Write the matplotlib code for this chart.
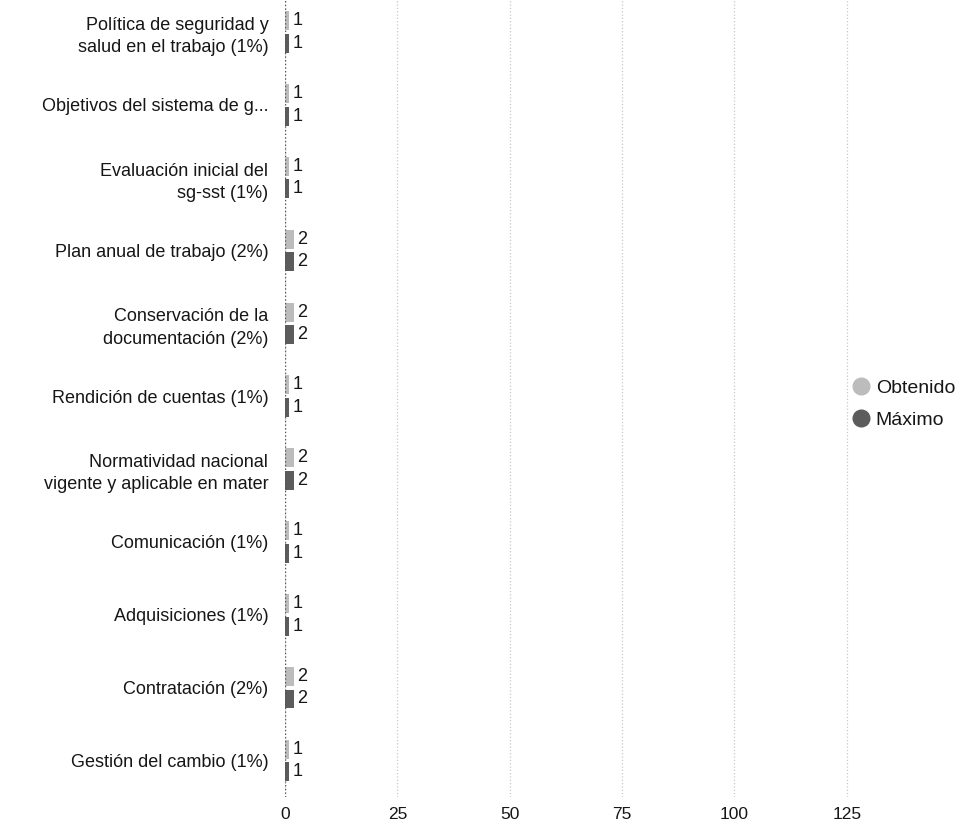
import numpy as np
import matplotlib.pyplot as plt
from matplotlib.lines import Line2D

plt.rcParams['font.family'] = ['Liberation Sans', 'DejaVu Sans']

categorias = [
    "Política de seguridad y\nsalud en el trabajo (1%)",
    "Objetivos del sistema de g...",
    "Evaluación inicial del\nsg-sst (1%)",
    "Plan anual de trabajo (2%)",
    "Conservación de la\ndocumentación (2%)",
    "Rendición de cuentas (1%)",
    "Normatividad nacional\nvigente y aplicable en mater",
    "Comunicación (1%)",
    "Adquisiciones (1%)",
    "Contratación (2%)",
    "Gestión del cambio (1%)",
]
obtenido = [1, 1, 1, 2, 2, 1, 2, 1, 1, 2, 1]
maximo = [1, 1, 1, 2, 2, 1, 2, 1, 1, 2, 1]
x_ticks = [0, 25, 50, 75, 100, 125]

C_OBT = "#bcbcbc"
C_MAX = "#5c5c5c"
TXT = "#161616"

fig = plt.figure(figsize=(9.63, 8.34), dpi=100)
ax = fig.add_axes([285 / 963, 1 - 797 / 834, 564 / 963, 803 / 834])

y = np.arange(len(categorias))
h = 0.26
off = 0.155
b1 = ax.barh(y - off, obtenido, height=h, color=C_OBT, zorder=3)
b2 = ax.barh(y + off, maximo, height=h, color=C_MAX, zorder=3)

for bars, vals in ((b1, obtenido), (b2, maximo)):
    for r, v in zip(bars, vals):
        ax.text(v + 0.6, r.get_y() + r.get_height() / 2, str(v),
                va="center", ha="left", fontsize=13, color=TXT)

ax.set_xlim(0, 125.5)
ax.set_ylim(10.5, -0.52)
ax.set_xticks(x_ticks)
ax.set_xticklabels([str(t) for t in x_ticks], fontsize=12.5, color=TXT)
ax.set_yticks(y)
ax.set_yticklabels(categorias, fontsize=13, color=TXT, linespacing=1.4)
ax.tick_params(axis="both", length=0)
ax.tick_params(axis="y", pad=12)
ax.tick_params(axis="x", pad=7)

for s in ax.spines.values():
    s.set_visible(False)
ax.grid(axis="x", color="#c8c8c8", linestyle=":", linewidth=0.9, zorder=0)
ax.axvline(0, color="#555555", linestyle=":", linewidth=1.0, zorder=4)

# legend with round markers
handles = [Line2D([], [], linestyle="none", marker="o", markersize=12,
                  markerfacecolor=c, markeredgecolor=c) for c in (C_OBT, C_MAX)]
fig.legend(handles=handles, labels=["Obtenido", "Máximo"],
           loc="center left", bbox_to_anchor=(836 / 963, 1 - 404 / 834),
           frameon=False, fontsize=14, handlelength=0.8,
           handletextpad=0.35, labelspacing=0.75, labelcolor=TXT)

fig.savefig("out.png", dpi=100)
